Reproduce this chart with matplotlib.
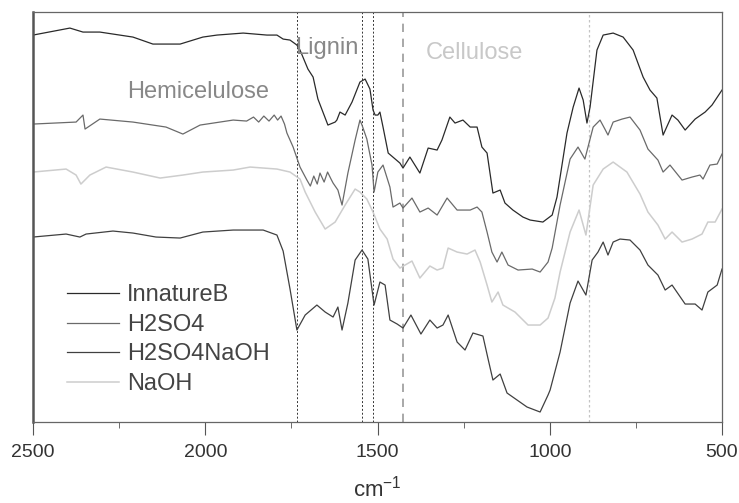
import matplotlib
matplotlib.use("Agg")
import matplotlib.pyplot as plt
from matplotlib.ticker import MultipleLocator

plt.rcParams.update({
    'font.family': ['Liberation Sans', 'DejaVu Sans'],
    'mathtext.fontset': 'custom', 'mathtext.rm': 'Liberation Sans',
    'xtick.direction': 'out', 'xtick.major.size': 9.5, 'xtick.minor.size': 4.5,
    'xtick.color': '#555555', 'xtick.labelcolor': '#333333',
})

# FTIR spectra, wavenumber (cm-1) and transmittance (arbitrary units, offset)
wn_innature = [2500, 2393, 2355, 2306, 2210, 2152, 2073, 2007, 1966, 1890, 1821, 1792,
               1774, 1754, 1734, 1725, 1702, 1687, 1673, 1644, 1623, 1618, 1609, 1594,
               1574, 1551, 1536, 1522, 1513, 1507, 1499, 1493, 1484, 1469, 1435, 1426,
               1406, 1377, 1353, 1327, 1313, 1290, 1275, 1252, 1231, 1211, 1197, 1182,
               1165, 1144, 1130, 1107, 1078, 1057, 1020, 993, 979, 950, 932, 915, 903,
               892, 883, 863, 845, 816, 787, 758, 729, 709, 689, 671, 645, 628, 607,
               578, 549, 529, 500]
t_innature = [387, 394, 390, 390, 385, 378, 378, 385, 387, 389, 387, 387,
              383, 382, 377, 372, 353, 345, 323, 297, 300, 302, 310, 307,
              320, 340, 343, 333, 312, 307, 307, 310, 295, 269, 259, 254,
              265, 249, 274, 272, 282, 305, 299, 302, 295, 295, 275, 269,
              229, 232, 219, 212, 205, 202, 200, 207, 225, 289, 315, 334, 322,
              299, 315, 372, 387, 389, 385, 372, 345, 332, 324, 287, 307, 302, 292,
              303, 310, 317, 332]

wn_h2so4 = [2500, 2375, 2355, 2349, 2306, 2210, 2114, 2065, 2015, 1919, 1880, 1860,
            1845, 1830, 1815, 1800, 1790, 1780, 1770, 1763, 1745, 1725, 1705, 1695,
            1685, 1675, 1667, 1655, 1645, 1635, 1629, 1615, 1603, 1586, 1565, 1551,
            1545, 1531, 1516, 1510, 1499, 1484, 1464, 1455, 1435, 1426, 1400, 1377,
            1353, 1327, 1298, 1269, 1231, 1211, 1197, 1182, 1168, 1153, 1139, 1121,
            1092, 1051, 1028, 1005, 993, 970, 941, 918, 898, 874, 854, 840, 831,
            816, 790, 767, 738, 715, 686, 671, 651, 616, 587, 564, 555, 535, 514, 500]
t_h2so4 = [298, 300, 307, 293, 303, 300, 295, 288, 297, 302, 301, 305,
           300, 306, 301, 307, 302, 306, 298, 289, 275, 255, 242, 236,
           246, 238, 249, 240, 250, 243, 239, 232, 217, 249, 282, 302,
           297, 283, 257, 230, 250, 257, 235, 215, 219, 214, 224, 210,
           214, 207, 224, 212, 212, 215, 210, 190, 170, 160, 170, 157,
           152, 153, 150, 160, 174, 217, 263, 275, 263, 295, 302, 293, 287,
           300, 303, 305, 292, 273, 262, 250, 257, 242, 245, 247, 243, 257, 258, 268]

wn_naoh = [2500, 2404, 2375, 2361, 2335, 2288, 2210, 2131, 2065, 2007, 1919, 1870,
           1792, 1754, 1725, 1710, 1681, 1652, 1623, 1594, 1565, 1551, 1531, 1513,
           1493, 1472, 1455, 1435, 1400, 1377, 1348, 1327, 1310, 1295, 1269, 1240,
           1217, 1202, 1182, 1168, 1150, 1136, 1101, 1063, 1028, 1005, 985, 970,
           941, 915, 895, 874, 845, 816, 776, 738, 715, 686, 665, 645, 616, 587,
           558, 541, 520, 500]
t_naoh = [250, 253, 247, 238, 247, 255, 250, 244, 247, 250, 252, 255,
          253, 250, 243, 230, 210, 193, 200, 217, 233, 230, 223, 210,
          193, 183, 163, 154, 161, 144, 156, 152, 154, 174, 170, 168,
          172, 160, 137, 120, 130, 117, 110, 97, 97, 104, 124, 150,
          190, 212, 187, 237, 253, 260, 250, 228, 210, 197, 183, 190, 180, 183,
          188, 200, 200, 213]

wn_h2so4naoh = [2500, 2404, 2364, 2346, 2268, 2210, 2143, 2073, 2007, 1919, 1832, 1792,
                1774, 1754, 1734, 1710, 1676, 1652, 1629, 1615, 1603, 1586, 1565, 1545,
                1528, 1510, 1493, 1478, 1464, 1443, 1426, 1403, 1374, 1348, 1327, 1310,
                1295, 1269, 1246, 1223, 1194, 1179, 1165, 1144, 1124, 1095, 1066, 1028,
                1005, 999, 970, 941, 918, 895, 877, 860, 845, 831, 816, 796, 767, 738,
                715, 686, 665, 645, 607, 578, 558, 541, 514, 500]
t_h2so4naoh = [185, 188, 185, 188, 191, 189, 185, 184, 190, 192, 192, 187,
               171, 133, 92, 107, 117, 110, 105, 115, 92, 119, 162, 172,
               163, 117, 140, 137, 102, 98, 94, 107, 88, 102, 94, 97,
               107, 80, 72, 89, 86, 63, 42, 48, 29, 22, 15, 10,
               27, 32, 70, 119, 141, 127, 162, 170, 180, 167, 180, 183, 182, 172,
               157, 147, 132, 137, 118, 118, 112, 130, 137, 153]

band_lines = [1735, 1545, 1512, 1425, 885]

fig = plt.figure(figsize=(7.39, 5.03), dpi=100)
ax = fig.add_axes([0.0447, 0.161, 0.9323, 0.815])

# band markers
ax.axvline(band_lines[0], color='#333333', ls=(0, (2, 2)), lw=0.7)
ax.axvline(band_lines[1], color='#333333', ls=(0, (2, 2)), lw=0.7)
ax.axvline(band_lines[2], color='#333333', ls=(0, (2, 2)), lw=0.7)
ax.axvline(band_lines[3], color='#999999', ls=(0, (5, 4)), lw=1.2)
ax.axvline(band_lines[4], color='#c4c4c4', ls=(0, (2, 2)), lw=0.9)

ax.plot(wn_innature, t_innature, color='#2a2a2a', lw=0.9, label='InnatureB')
ax.plot(wn_h2so4, t_h2so4, color='#6a6a6a', lw=0.9, label='H2SO4')
ax.plot(wn_h2so4naoh, t_h2so4naoh, color='#404040', lw=0.9, label='H2SO4NaOH')
ax.plot(wn_naoh, t_naoh, color='#cdcdcd', lw=1.1, label='NaOH')

ax.text(2021, 330, 'Hemicelulose', color='#888888', fontsize=17, ha='center', va='center')
ax.text(1647, 374, 'Lignin', color='#888888', fontsize=17, ha='center', va='center')
ax.text(1220, 369, 'Cellulose', color='#c8c8c8', fontsize=17, ha='center', va='center')

ax.set_xlim(2500, 500)
ax.set_ylim(0, 410)
ax.xaxis.set_major_locator(MultipleLocator(500))
ax.xaxis.set_minor_locator(MultipleLocator(250))
ax.tick_params(axis='x', labelsize=14, pad=6)
ax.set_yticks([])
ax.set_xlabel('cm$^{\\mathregular{-1}}$', fontsize=16, color='#333333', labelpad=11)

for side in ['top', 'right', 'bottom']:
    ax.spines[side].set_color('#666666')
    ax.spines[side].set_linewidth(0.9)
ax.spines['left'].set_color('#555555')
ax.spines['left'].set_linewidth(1.8)

ax.legend(loc='upper left', bbox_to_anchor=(0.049, 0.336), frameon=False, fontsize=17,
          handlelength=2.2, handletextpad=0.35, labelspacing=0.32,
          borderpad=0, borderaxespad=0, labelcolor='#444444')

fig.savefig('out.png', dpi=100)
